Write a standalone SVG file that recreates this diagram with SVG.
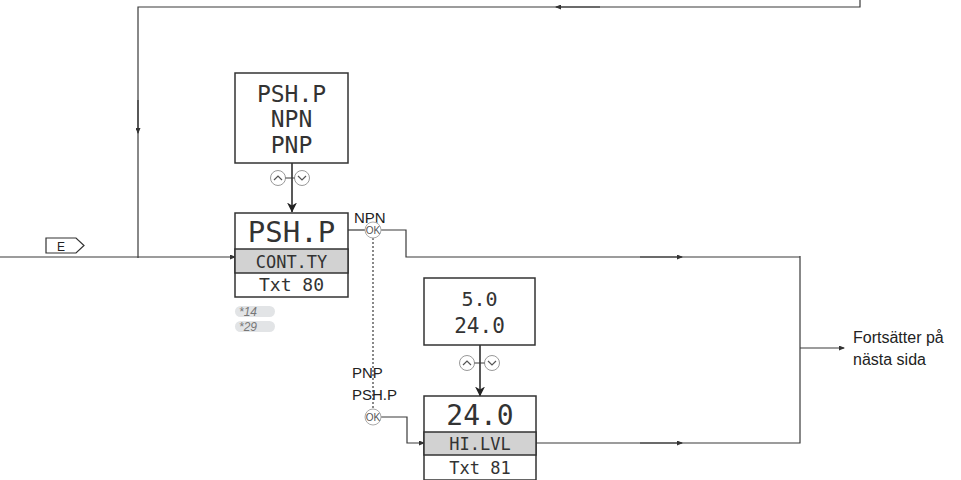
<svg xmlns="http://www.w3.org/2000/svg" width="961" height="480" viewBox="0 0 961 480">
<defs>
<style>
.ln{fill:none;stroke:#3a3a3a;stroke-width:1.2}
.dot{fill:none;stroke:#3a3a3a;stroke-width:1.2;stroke-dasharray:2 2}
.box{fill:#fff;stroke:#333;stroke-width:1.5}
.gray{fill:#d2d2d2;stroke:#333;stroke-width:1.5}
.lcd{font-family:"DejaVu Sans Mono","Liberation Mono",monospace;fill:#333;text-anchor:middle}
.lbl{font-family:"Liberation Sans","DejaVu Sans",sans-serif;fill:#222;font-size:15px}
.ok{fill:#fff;stroke:#aaa;stroke-width:1}
.oktxt{font-family:"Liberation Sans",sans-serif;font-size:10px;fill:#555;text-anchor:middle}
.btn{fill:#fff;stroke:#999;stroke-width:1}
.chev{fill:none;stroke:#555;stroke-width:1.2}
.pill{fill:#e2e4e6}
.note{font-family:"Liberation Sans",sans-serif;font-style:italic;font-size:12px;fill:#777}
</style>
<marker id="ah" markerWidth="6" markerHeight="5" refX="5" refY="2.5" orient="auto" markerUnits="userSpaceOnUse">
<path d="M0,0 L6,2.5 L0,5 Z" fill="#333"/>
</marker>
<marker id="big" markerWidth="10" markerHeight="12" refX="9.5" refY="5" orient="auto" markerUnits="userSpaceOnUse">
<path d="M0,0 L10,5 L0,10 L3,5 Z" fill="#222"/>
</marker>
</defs>

<g id="connectors">
  <path class="ln" d="M860,0 V7 H138 V258"/>
  <path class="ln" d="M600,7 H556" marker-end="url(#ah)"/>
  <path class="ln" d="M138,100 V133" marker-end="url(#ah)"/>
  <path class="ln" d="M0,257 H235" marker-end="url(#ah)"/>
  <path class="ln" style="stroke-width:1.5;stroke:#222" d="M292,163 V212" marker-end="url(#big)"/>
  <path class="ln" d="M348,230 H365"/>
  <path class="ln" d="M381,230 H406 V257 H800"/>
  <path class="ln" d="M640,257 H682" marker-end="url(#ah)"/>
  <path class="dot" d="M373,238 V409"/>
  <path class="ln" d="M381,417 H407 V443 H424" marker-end="url(#ah)"/>
  <path class="ln" style="stroke-width:1.5;stroke:#222" d="M480,345 V396" marker-end="url(#big)"/>
  <path class="ln" d="M536,443 H800 V256"/>
  <path class="ln" d="M640,443 H682" marker-end="url(#ah)"/>
  <path class="ln" d="M800,348 H844" marker-end="url(#ah)"/>
</g>

<g id="tag-E">
  <path d="M46,238 H76 L84,245.5 L76,253 H46 Z" fill="#fff" stroke="#333" stroke-width="1.2"/>
  <text x="61" y="250.5" font-family="Liberation Sans,sans-serif" font-size="12" fill="#222" text-anchor="middle">E</text>
</g>

<g id="node-select-list">
  <rect class="box" x="235" y="73" width="113" height="90"/>
  <text class="lcd" x="291.5" y="102" font-size="23">PSH.P</text>
  <text class="lcd" x="291.5" y="127" font-size="23">NPN</text>
  <text class="lcd" x="291.5" y="153" font-size="23">PNP</text>
</g>

<g id="updown-1">
  <circle class="btn" cx="278" cy="178" r="7.5"/>
  <path class="chev" d="M274,180 L278,176 L282,180"/>
  <circle class="btn" cx="302" cy="178" r="7.5"/>
  <path class="chev" d="M298,176 L302,180 L306,176"/>
  <line x1="285.5" y1="178" x2="294.5" y2="178" stroke="#3a3a3a" stroke-width="1"/>
</g>

<g id="node-cont-ty">
  <rect class="box" x="235" y="213" width="113" height="84"/>
  <rect class="gray" x="235" y="249" width="113" height="24"/>
  <text class="lcd" x="291.5" y="242" font-size="29">PSH.P</text>
  <text class="lcd" x="291.5" y="268" font-size="17">CONT.TY</text>
  <text class="lcd" x="291.5" y="291" font-size="18">Txt 80</text>
</g>

<g id="notes">
  <rect class="pill" x="235" y="306" width="40" height="11" rx="5.5"/>
  <text class="note" x="239" y="316">*14</text>
  <rect class="pill" x="235" y="321" width="40" height="11" rx="5.5"/>
  <text class="note" x="239" y="331">*29</text>
</g>

<g id="ok-npn">
  <text class="lbl" x="354" y="223">NPN</text>
  <circle class="ok" cx="373" cy="230" r="8"/>
  <text class="oktxt" x="373" y="233.5">OK</text>
</g>

<g id="ok-pnp">
  <text class="lbl" x="352" y="378">PNP</text>
  <text class="lbl" x="352" y="400">PSH.P</text>
  <circle class="ok" cx="373" cy="417" r="8"/>
  <text class="oktxt" x="373" y="420.5">OK</text>
</g>

<g id="node-range">
  <rect class="box" x="424" y="278" width="111" height="67"/>
  <text class="lcd" x="479.5" y="306" font-size="20">5.0</text>
  <text class="lcd" x="479.5" y="333" font-size="21">24.0</text>
</g>

<g id="updown-2">
  <circle class="btn" cx="467" cy="363" r="7.5"/>
  <path class="chev" d="M463,365 L467,361 L471,365"/>
  <circle class="btn" cx="492" cy="363" r="7.5"/>
  <path class="chev" d="M488,361 L492,365 L496,361"/>
  <line x1="474.5" y1="363" x2="484.5" y2="363" stroke="#3a3a3a" stroke-width="1"/>
</g>

<g id="node-hi-lvl">
  <rect class="box" x="424" y="396" width="112" height="84"/>
  <rect class="gray" x="424" y="432" width="112" height="23"/>
  <text class="lcd" x="480" y="425" font-size="28">24.0</text>
  <text class="lcd" x="480" y="450" font-size="17">HI.LVL</text>
  <text class="lcd" x="480" y="474" font-size="17">Txt 81</text>
</g>

<g id="exit-label">
  <text class="lbl" x="853" y="343" style="font-size:16px">Fortsätter på</text>
  <text class="lbl" x="853" y="365" style="font-size:16px">nästa sida</text>
</g>
</svg>
